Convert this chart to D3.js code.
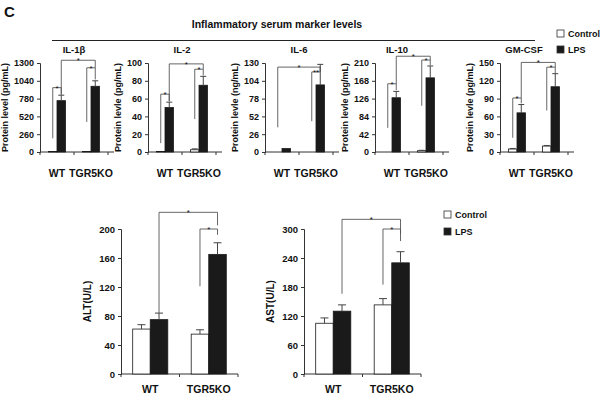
<!DOCTYPE html>
<html>
<head>
<meta charset="utf-8">
<script src="https://cdn.jsdelivr.net/npm/d3@7"></script>
<style>
  body { margin: 0; background: #fff; }
  svg text { font-family: "Liberation Sans", Arial, sans-serif; font-weight: bold; fill: #111; }
</style>
</head>
<body>
<svg id="chart" width="600" height="394"></svg>
<script>
  // groups and series shared by every panel
  var groups = ['WT', 'TGR5KO'];
  var series = ['Control', 'LPS'];

  // top row: serum cytokines
  var cytokines = ['IL-1\u03b2', 'IL-2', 'IL-6', 'IL-10', 'GM-CSF'];
  var cytoYLabels = ['Protein level (pg/mL)', 'Protein levle (pg/mL)', 'Protein levle (ng/mL)',
                     'Protein levle (pg/mL)', 'Protein levle (pg/mL)'];
  var cytoMax = [1300, 100, 130, 210, 150];
  var cytoStep = [260, 20, 26, 42, 30];
  // values per panel: [WT, TGR5KO]
  var cytoControl = [[6, 6], [0.5, 2.5], [0, 0], [0, 3], [5, 10]];
  var cytoControlErr = [[0, 0], [0, 1], [0, 0], [0, 1], [1, 1]];
  var cytoLPS = [[750, 960], [50, 75], [5, 98], [128, 175], [66, 110]];
  var cytoLPSErr = [[80, 80], [6, 10], [0, 30], [15, 28], [14, 22]];
  // significance brackets: [group1, series1, group2, series2, top, foot1, foot2, label]
  var cytoBrackets = [
    [[0, 0, 0, 1, 940, 200, 850, '*'], [1, 0, 1, 1, 1230, 440, 1060, '*'], [0, 1, 1, 1, 1340, 830, 1230, '*']],
    [[0, 0, 0, 1, 65, 10, 57, '*'], [1, 0, 1, 1, 93, 37, 86, '*'], [0, 1, 1, 1, 99, 57, 93, '*']],
    [[1, 0, 1, 1, 117, 45, 125, '**'], [0, 0, 1, 1, 124, 36, 117, '*']],
    [[0, 0, 0, 1, 161, 57, 146, '*'], [1, 0, 1, 1, 217, 109, 205, '*'], [0, 1, 1, 1, 226, 161, 217, '*']],
    [[0, 0, 0, 1, 91, 24, 82, '*'], [1, 0, 1, 1, 143, 70, 133, '*'], [0, 1, 1, 1, 151, 91, 143, '*']]
  ];

  // bottom row: liver enzymes
  var enzymes = ['ALT(U/L)', 'AST(U/L)'];
  var enzymeMax = [200, 300];
  var enzymeStep = [40, 60];
  var enzymeControl = [[62, 55], [105, 143]];
  var enzymeControlErr = [[6, 6], [11, 13]];
  var enzymeLPS = [[75, 165], [130, 230]];
  var enzymeLPSErr = [[9, 16], [13, 23]];
  var enzymeBrackets = [
    [[1, 0, 1, 1, 200, 121, 192, '*'], [0, 1, 1, 1, 223, 84, 205, '*']],
    [[1, 0, 1, 1, 300, 185, 275, '*'], [0, 1, 1, 1, 320, 166, 290, '*']]
  ];

  var svg = d3.select('#chart');

  function drawPanel(opt) {
    var g = svg.append('g').attr('transform', 'translate(' + opt.x0 + ',0)');
    var bw = opt.bw;
    var x = d3.scaleBand().domain(groups).range([0, bw * 2]);
    var xs = d3.scaleBand().domain(series).range([bw * opt.inner, bw * (1 - opt.inner)]);
    var y = d3.scaleLinear().domain([0, opt.max]).range([opt.yBot, opt.yTop]);
    var cx = function(gi, si) { return x(groups[gi]) + xs(series[si]) + xs.bandwidth() / 2; };

    // y axis
    var ticks = d3.range(0, opt.max + opt.step / 2, opt.step);
    var ya = g.append('g').call(d3.axisLeft(y).tickValues(ticks).tickSize(3).tickPadding(3).tickFormat(d3.format('d')));
    ya.select('.domain').attr('stroke', '#333');
    ya.selectAll('.tick line').attr('stroke', '#333');
    ya.selectAll('text').style('font-size', opt.tickFont + 'px').style('font-family', '"Liberation Sans", Arial, sans-serif').attr('fill', '#111');
    var maxW = 0;
    ya.selectAll('text').each(function() { maxW = Math.max(maxW, this.getComputedTextLength()); });

    // x axis: ticks between categories
    var xa = g.append('g').attr('transform', 'translate(0,' + opt.yBot + ')');
    xa.append('line').attr('x1', 0).attr('x2', bw * 2 + opt.ext).attr('stroke', '#333');
    xa.selectAll('.xt').data([0, 1, 2]).enter().append('line')
      .attr('x1', function(d) { return d * bw; }).attr('x2', function(d) { return d * bw; })
      .attr('y1', 0).attr('y2', 3).attr('stroke', '#333');
    xa.selectAll('.xl').data(groups).enter().append('text')
      .attr('x', function(d) { return x(d) + bw / 2; })
      .attr('y', opt.xLabelY - opt.yBot)
      .attr('text-anchor', 'middle')
      .style('font-size', opt.xFont + 'px')
      .text(function(d) { return d; });

    // bars
    var rows = [];
    groups.forEach(function(gn, gi) {
      rows.push({ gi: gi, si: 0, v: opt.control[gi], e: opt.controlErr[gi] });
      rows.push({ gi: gi, si: 1, v: opt.lps[gi], e: opt.lpsErr[gi] });
    });
    g.selectAll('.bar').data(rows).enter().append('rect')
      .attr('x', function(d) { return x(groups[d.gi]) + xs(series[d.si]); })
      .attr('width', xs.bandwidth())
      .attr('y', function(d) { return y(d.v); })
      .attr('height', function(d) { return y(0) - y(d.v); })
      .attr('fill', function(d) { return d.si === 0 ? '#fff' : '#1a1a1a'; })
      .attr('stroke', '#1a1a1a').attr('stroke-width', 0.8);

    // error bars (upper half only)
    var err = g.selectAll('.err').data(rows.filter(function(d) { return d.e > 0; })).enter().append('g');
    err.append('line')
      .attr('x1', function(d) { return cx(d.gi, d.si); }).attr('x2', function(d) { return cx(d.gi, d.si); })
      .attr('y1', function(d) { return y(d.v); }).attr('y2', function(d) { return y(d.v + d.e); })
      .attr('stroke', '#444');
    err.append('line')
      .attr('x1', function(d) { return cx(d.gi, d.si) - opt.cap; }).attr('x2', function(d) { return cx(d.gi, d.si) + opt.cap; })
      .attr('y1', function(d) { return y(d.v + d.e); }).attr('y2', function(d) { return y(d.v + d.e); })
      .attr('stroke', '#444');

    // significance brackets
    var br = g.selectAll('.br').data(opt.brackets).enter().append('g');
    br.append('path')
      .attr('d', function(b) {
        var x1 = cx(b[0], b[1]), x2 = cx(b[2], b[3]);
        return 'M' + x1 + ',' + y(b[5]) + 'V' + y(b[4]) + 'H' + x2 + 'V' + y(b[6]);
      })
      .attr('fill', 'none').attr('stroke', '#555').attr('stroke-width', 0.9);
    br.append('text')
      .attr('x', function(b) { return (cx(b[0], b[1]) + cx(b[2], b[3])) / 2; })
      .attr('y', function(b) { return y(b[4]) + 3; })
      .attr('text-anchor', 'middle')
      .style('font-size', '8px').style('font-weight', 'normal').attr('fill', '#555')
      .text(function(b) { return b[7]; });

    // panel title
    if (opt.title) {
      g.append('text').attr('x', bw + opt.titleDx).attr('y', opt.titleY)
        .attr('text-anchor', 'middle').style('font-size', '9.5px').text(opt.title);
    }

    // y axis title
    g.append('text')
      .attr('transform', 'translate(' + (-maxW - opt.yLabelGap) + ',' + ((opt.yTop + opt.yBot) / 2) + ') rotate(-90)')
      .attr('text-anchor', 'middle')
      .style('font-size', opt.yFont + 'px')
      .text(opt.yLabel);
  }

  function drawLegend(x0, y0, gap) {
    var lg = svg.append('g').attr('transform', 'translate(' + x0 + ',' + y0 + ')');
    series.forEach(function(s, i) {
      lg.append('rect').attr('x', 0).attr('y', i * gap - 7).attr('width', 7).attr('height', 7)
        .attr('fill', i === 0 ? '#fff' : '#1a1a1a').attr('stroke', '#333').attr('stroke-width', 0.8);
      lg.append('text').attr('x', 11).attr('y', i * gap).style('font-size', '9px').text(s);
    });
  }

  // panel letter and heading
  svg.append('text').attr('x', 4).attr('y', 17).style('font-size', '15px').text('C');
  svg.append('text').attr('x', 277).attr('y', 28).attr('text-anchor', 'middle')
    .style('font-size', '10.5px').text('Inflammatory serum marker levels');
  svg.append('line').attr('x1', 52).attr('x2', 535).attr('y1', 40.5).attr('y2', 40.5)
    .attr('stroke', '#222').attr('stroke-width', 1);

  // layout of the top row
  var cytoX0 = [40, 148, 265, 375, 500];
  var cytoTitleDx = [0, 0, 0, -12, -10];
  cytokines.forEach(function(name, i) {
    drawPanel({
      x0: cytoX0[i], bw: 34, inner: 0.25, ext: 6, yTop: 63, yBot: 152,
      max: cytoMax[i], step: cytoStep[i],
      control: cytoControl[i], controlErr: cytoControlErr[i],
      lps: cytoLPS[i], lpsErr: cytoLPSErr[i],
      brackets: cytoBrackets[i], cap: 3,
      title: name, titleY: 53, titleDx: cytoTitleDx[i],
      yLabel: cytoYLabels[i], yLabelGap: 12, yFont: 9,
      tickFont: 9, xFont: 10.5, xLabelY: 177
    });
  });
  drawLegend(557, 37, 16);

  var enzymeX0 = [121, 304];
  enzymes.forEach(function(name, i) {
    drawPanel({
      x0: enzymeX0[i], bw: 58.5, inner: 0.2, ext: 0, yTop: 229, yBot: 374,
      max: enzymeMax[i], step: enzymeStep[i],
      control: enzymeControl[i], controlErr: enzymeControlErr[i],
      lps: enzymeLPS[i], lpsErr: enzymeLPSErr[i],
      brackets: enzymeBrackets[i], cap: 4,
      title: null,
      yLabel: name, yLabelGap: 14, yFont: 10,
      tickFont: 9.5, xFont: 10.5, xLabelY: 393
    });
  });
  drawLegend(444, 218, 17);
</script>
</body>
</html>
